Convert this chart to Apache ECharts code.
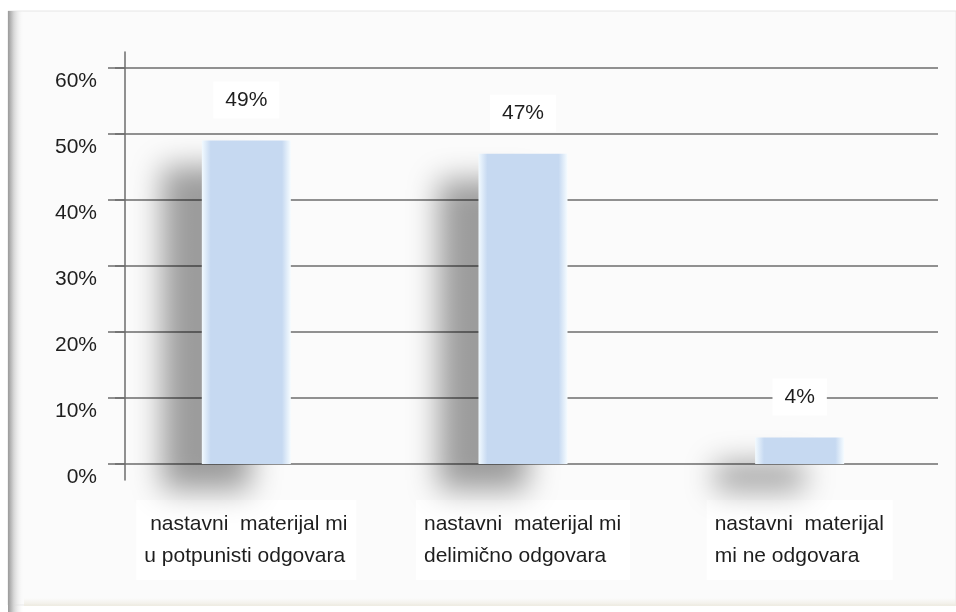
<!DOCTYPE html>
<html>
<head>
<meta charset="utf-8">
<script src="https://cdn.jsdelivr.net/npm/echarts@6/dist/echarts.min.js"></script>
<style>
  html, body { margin: 0; padding: 0; background: #ffffff; }
  #chart { width: 956px; height: 612px; }
</style>
</head>
<body>
<div id="chart"></div>
<script>
// Survey answers and their shares (percent)
const categories = [
  ' nastavni  materijal mi\nu potpunisti odgovara',
  'nastavni  materijal mi\ndelimično odgovara',
  'nastavni  materijal\nmi ne odgovara'
];
const shares = [49, 47, 4];
const yTicks = [0, 10, 20, 30, 40, 50, 60];

const FONT = '"Liberation Sans", Arial, sans-serif';
const LABEL_SIZE = 21;
const GRID_COLOR = '#6c6c6c';
const TEXT_COLOR = '#1e1e1e';

// Width of the longest line of each category label, so the lines can be
// left-aligned inside a block that is centred under its bar.
const measureCtx = document.createElement('canvas').getContext('2d');
measureCtx.font = LABEL_SIZE + 'px ' + FONT;
const labelRich = {};
categories.forEach((c, i) => {
  const w = Math.max(...c.split('\n').map(l => measureCtx.measureText(l).width));
  labelRich['t' + i] = {
    width: Math.ceil(w), align: 'left', fontSize: LABEL_SIZE, lineHeight: 32,
    fontFamily: FONT, color: TEXT_COLOR
  };
});

const chart = echarts.init(document.getElementById('chart'), null, { renderer: 'canvas' });

const barFill = new echarts.graphic.LinearGradient(0, 0, 1, 0, [
  { offset: 0, color: '#f2faff' },
  { offset: 0.1, color: '#c6d9f1' },
  { offset: 0.9, color: '#c6d9f1' },
  { offset: 1, color: '#f6fcff' }
]);

chart.setOption({
  backgroundColor: '#ffffff',
  animation: false,
  graphic: [
    // panel behind the chart
    { type: 'rect', z: -10, silent: true,
      shape: { x: 8, y: 11, width: 948, height: 594 },
      style: { fill: '#fbfbfb', stroke: '#e6e6e6', lineWidth: 1 } },
    // bevel on the left edge of the panel
    { type: 'rect', z: -9, silent: true,
      shape: { x: 8, y: 11, width: 16, height: 601 },
      style: { fill: new echarts.graphic.LinearGradient(0, 0, 1, 0, [
        { offset: 0, color: '#9a9a9a' },
        { offset: 0.35, color: '#d4d4d4' },
        { offset: 1, color: 'rgba(251,251,251,0)' }
      ]) } },
    // faint bottom rim
    { type: 'rect', z: -9, silent: true,
      shape: { x: 24, y: 598, width: 932, height: 8 },
      style: { fill: new echarts.graphic.LinearGradient(0, 0, 0, 1, [
        { offset: 0, color: 'rgba(240,238,230,0)' },
        { offset: 1, color: '#efece2' }
      ]) } }
  ],
  grid: [
    { left: 108, width: 830, top: 68, bottom: 148 },
    { left: 125, width: 10, top: 52, bottom: 132 }
  ],
  xAxis: [
    {
      type: 'category',
      gridIndex: 0,
      data: categories,
      axisLine: { show: false },
      axisTick: { show: false },
      axisLabel: {
        interval: 0,
        margin: 36,
        backgroundColor: '#ffffff',
        padding: [8, 8, 8, 8],
        formatter: (v, i) => v.split('\n').map(l => '{t' + i + '|' + l + '}').join('\n'),
        rich: labelRich
      }
    },
    { type: 'value', gridIndex: 1, show: false }
  ],
  yAxis: [
    {
      type: 'value',
      gridIndex: 0,
      min: yTicks[0],
      max: yTicks[yTicks.length - 1],
      interval: 10,
      offset: -17,
      axisLine: { show: false },
      axisTick: { show: true, length: 10, lineStyle: { color: GRID_COLOR, width: 1.5 } },
      splitLine: { show: true, lineStyle: { color: GRID_COLOR, width: 1.5 } },
      axisLabel: {
        margin: 28,
        fontSize: LABEL_SIZE,
        fontFamily: FONT,
        color: TEXT_COLOR,
        verticalAlign: 'top',
        padding: [3, 0, 0, 0],
        formatter: (v) => v + '%'
      }
    },
    {
      type: 'value',
      gridIndex: 1,
      min: 0, max: 1,
      axisLine: { show: true, lineStyle: { color: GRID_COLOR, width: 1.5 } },
      axisTick: { show: false },
      axisLabel: { show: false },
      splitLine: { show: false }
    }
  ],
  series: [
    {
      type: 'bar',
      xAxisIndex: 0,
      yAxisIndex: 0,
      data: shares,
      barWidth: 89,
      itemStyle: {
        color: barFill,
        shadowColor: 'rgba(0,0,0,0.38)',
        shadowBlur: 30,
        shadowOffsetX: -40,
        shadowOffsetY: 26
      },
      label: {
        show: true,
        position: 'top',
        distance: 22,
        formatter: (p) => p.value + '%',
        fontSize: LABEL_SIZE,
        fontFamily: FONT,
        color: TEXT_COLOR,
        backgroundColor: '#ffffff',
        padding: [8, 12, 8, 12]
      }
    }
  ]
});
</script>
</body>
</html>
